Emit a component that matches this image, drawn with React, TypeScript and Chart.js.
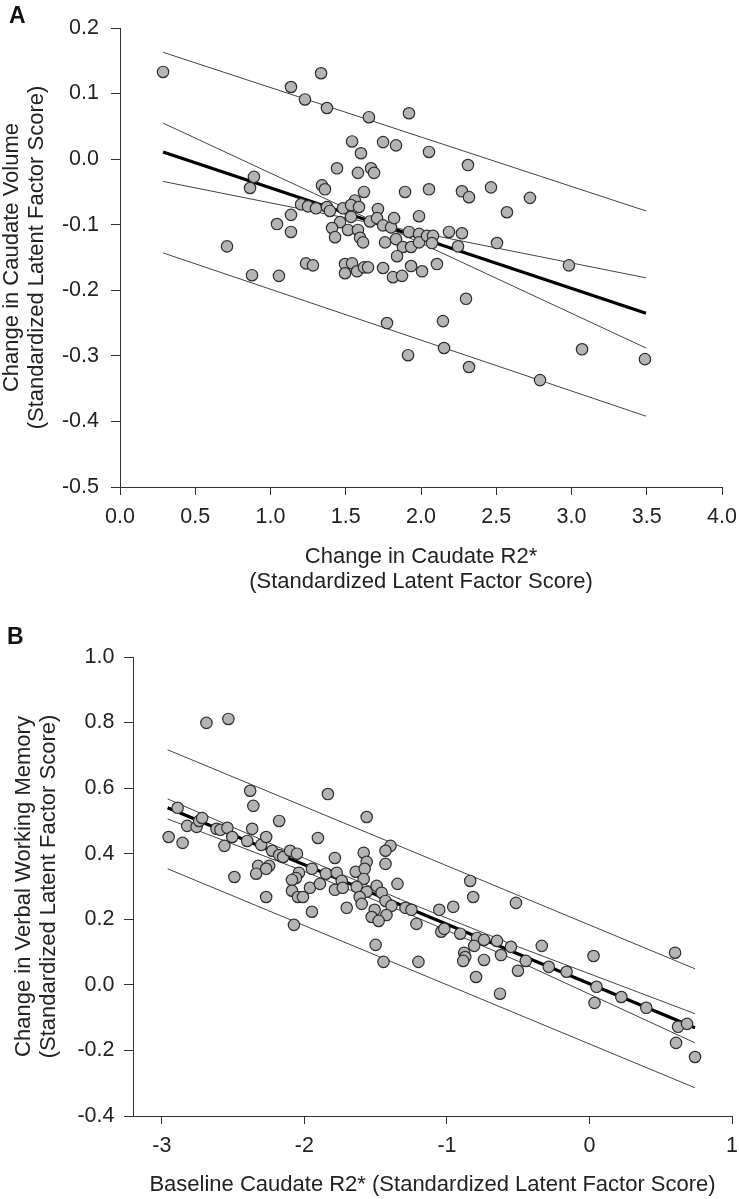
import React, { useEffect, useRef } from "react";
import { Chart, registerables } from "chart.js";

Chart.register(...registerables);

const FONT = '"Liberation Sans", Arial, Helvetica, sans-serif';

// ---------- Panel A ----------
const aXTicks = [0, 0.5, 1, 1.5, 2, 2.5, 3, 3.5, 4];
const aYTicks = [-0.5, -0.4, -0.3, -0.2, -0.1, 0, 0.1, 0.2];
const aXTitle = ["Change in Caudate R2*", "(Standardized Latent Factor Score)"];
const aYTitle = ["Change in Caudate Volume", "(Standardized Latent Factor Score)"];

const aPoints: [number, number][] = [
  [0.286, 0.133], [1.336, 0.131], [1.136, 0.110], [1.229, 0.091], [1.375, 0.078],
  [1.654, 0.064], [1.920, 0.070], [1.542, 0.027], [1.748, 0.026], [1.834, 0.021],
  [2.053, 0.011], [2.312, -0.009], [1.601, 0.009], [1.442, -0.014], [1.581, -0.021],
  [1.668, -0.014], [1.688, -0.021], [0.890, -0.027], [0.864, -0.044], [1.342, -0.040],
  [1.362, -0.046], [1.621, -0.050], [1.561, -0.063], [1.894, -0.050], [2.053, -0.046],
  [2.272, -0.049], [2.319, -0.058], [2.465, -0.043], [2.724, -0.059], [2.571, -0.081],
  [1.203, -0.069], [1.249, -0.072], [1.302, -0.075], [1.375, -0.073], [1.395, -0.079],
  [1.482, -0.075], [1.535, -0.070], [1.588, -0.073], [1.535, -0.088], [1.462, -0.096],
  [1.409, -0.105], [1.429, -0.119], [1.515, -0.108], [1.581, -0.108], [1.595, -0.120],
  [1.615, -0.127], [1.661, -0.095], [1.714, -0.076], [1.708, -0.090], [1.748, -0.101],
  [1.801, -0.104], [1.821, -0.090], [1.761, -0.127], [1.834, -0.122], [1.880, -0.134],
  [1.934, -0.134], [1.920, -0.111], [1.987, -0.114], [1.987, -0.127], [1.987, -0.087],
  [2.040, -0.117], [2.080, -0.117], [2.073, -0.128], [2.186, -0.111], [2.272, -0.113],
  [2.246, -0.133], [2.505, -0.128], [1.841, -0.148], [1.136, -0.085], [1.043, -0.099],
  [1.136, -0.111], [1.236, -0.159], [1.282, -0.162], [1.056, -0.178], [0.877, -0.177],
  [1.495, -0.160], [1.495, -0.174], [1.542, -0.159], [1.575, -0.171], [1.621, -0.165],
  [1.648, -0.165], [1.748, -0.166], [1.814, -0.180], [1.874, -0.178], [1.934, -0.163],
  [2.007, -0.171], [2.106, -0.160], [2.299, -0.213], [2.146, -0.247], [1.774, -0.250],
  [2.153, -0.288], [1.914, -0.299], [2.319, -0.317], [2.983, -0.162], [2.791, -0.337],
  [3.070, -0.290], [3.488, -0.305], [0.711, -0.133],
];

const aLineX = [0.286, 3.495];
const aFitY = [0.011, -0.235];
const aConfSteepY = [0.055, -0.288];
const aConfShallowY = [-0.034, -0.181];
const aPredUpperY = [0.163, -0.079];
const aPredLowerY = [-0.143, -0.392];

// ---------- Panel B ----------
const bXTicks = [-3, -2, -1, 0, 1];
const bYTicks = [-0.4, -0.2, 0, 0.2, 0.4, 0.6, 0.8, 1.0];
const bXTitle = "Baseline Caudate R2* (Standardized Latent Factor Score)";
const bYTitle = ["Change in Verbal Working Memory", "(Standardized Latent Factor Score)"];

const bPoints: [number, number][] = [
  [-2.687, 0.799], [-2.533, 0.811], [-2.380, 0.592], [-2.358, 0.546], [-1.835, 0.582],
  [-1.563, 0.512], [-2.889, 0.540], [-2.822, 0.485], [-2.756, 0.482], [-2.738, 0.500],
  [-2.717, 0.509], [-2.952, 0.451], [-2.854, 0.433], [-2.617, 0.476], [-2.589, 0.473],
  [-2.540, 0.479], [-2.561, 0.424], [-2.506, 0.451], [-2.366, 0.476], [-2.401, 0.439],
  [-2.303, 0.427], [-2.268, 0.451], [-2.177, 0.500], [-2.226, 0.409], [-2.177, 0.396],
  [-2.149, 0.390], [-2.100, 0.409], [-2.052, 0.400], [-1.905, 0.448], [-1.786, 0.387],
  [-2.324, 0.363], [-2.247, 0.363], [-2.338, 0.339], [-2.268, 0.354], [-2.491, 0.329],
  [-2.268, 0.268], [-2.038, 0.342], [-2.059, 0.326], [-2.087, 0.320], [-2.087, 0.287],
  [-2.045, 0.268], [-2.010, 0.268], [-1.961, 0.296], [-1.947, 0.354], [-1.891, 0.308],
  [-1.849, 0.339], [-1.773, 0.342], [-1.786, 0.290], [-1.738, 0.317], [-1.731, 0.296],
  [-1.703, 0.235], [-1.947, 0.223], [-2.073, 0.183], [-1.640, 0.345], [-1.584, 0.403],
  [-1.563, 0.375], [-1.577, 0.354], [-1.584, 0.323], [-1.633, 0.299], [-1.563, 0.284],
  [-1.493, 0.302], [-1.458, 0.281], [-1.612, 0.268], [-1.598, 0.247], [-1.431, 0.256],
  [-1.389, 0.241], [-1.424, 0.213], [-1.507, 0.229], [-1.528, 0.207], [-1.479, 0.195],
  [-1.396, 0.424], [-1.431, 0.409], [-1.431, 0.369], [-1.347, 0.308], [-1.500, 0.122],
  [-1.445, 0.070], [-0.837, 0.317], [-0.816, 0.268], [-0.516, 0.250], [-1.291, 0.235],
  [-1.249, 0.229], [-1.214, 0.186], [-1.054, 0.229], [-0.956, 0.238], [-1.200, 0.070],
  [-1.040, 0.162], [-1.019, 0.171], [-0.907, 0.156], [-0.789, 0.143], [-0.740, 0.137],
  [-0.809, 0.119], [-0.649, 0.134], [-0.551, 0.116], [-0.621, 0.091], [-0.879, 0.098],
  [-0.872, 0.085], [-0.886, 0.073], [-0.740, 0.076], [-0.796, 0.024], [-0.447, 0.073],
  [-0.502, 0.043], [-0.628, -0.027], [-0.335, 0.119], [-0.286, 0.055], [-0.161, 0.040],
  [0.028, 0.088], [0.049, -0.006], [0.035, -0.055], [0.223, -0.037], [0.398, -0.070],
  [0.600, 0.098], [0.621, -0.128], [0.684, -0.119], [0.607, -0.177], [0.740, -0.220],
];

const bLineX = [-2.959, 0.74];
const bFitY = [0.540, -0.131];
const bPredUpperY = [0.717, 0.049];
const bPredLowerY = [0.354, -0.314];
const bBandX = [-2.959, -2.0, -1.3, -0.5, 0.74];
const bBandUpperY = [0.567, 0.386, 0.256, 0.116, -0.088];
const bBandLowerY = [0.506, 0.346, 0.222, 0.072, -0.177];

// ---------- helpers ----------
const zip = (xs: number[], ys: number[]) => xs.map((x, i) => ({ x, y: ys[i] }));

function lineSet(xs: number[], ys: number[], thick = false) {
  return {
    type: "scatter" as const,
    data: zip(xs, ys),
    showLine: true,
    borderColor: thick ? "#000" : "#444",
    borderWidth: thick ? 3.2 : 1,
    pointRadius: 0,
    pointHoverRadius: 0,
    fill: false,
    tension: 0,
    order: thick ? 2 : 3,
  };
}

function pointSet(pts: [number, number][]) {
  return {
    type: "scatter" as const,
    data: pts.map(([x, y]) => ({ x, y })),
    showLine: false,
    pointRadius: 5.7,
    pointHoverRadius: 5.7,
    backgroundColor: "#b4b4b4",
    borderColor: "#2e2e2e",
    borderWidth: 1.2,
    order: 0,
  };
}

function axis(o: {
  horizontal: boolean;
  min: number;
  max: number;
  tickValues: number[];
  decimals: number;
  fit: number;
  tickLength: number;
  tickPadding: number;
  title: string | string[];
  titlePadding: any;
}) {
  return {
    type: "linear",
    position: o.horizontal ? "bottom" : "left",
    min: o.min,
    max: o.max,
    afterBuildTicks: (s: any) => {
      s.ticks = o.tickValues.map((v) => ({ value: v }));
    },
    afterFit: (s: any) => {
      if (o.horizontal) {
        s.height = o.fit;
        s.paddingLeft = 0;
        s.paddingRight = 0;
      } else {
        s.width = o.fit;
        s.paddingTop = 0;
        s.paddingBottom = 0;
      }
    },
    grid: {
      display: true,
      drawOnChartArea: false,
      drawTicks: true,
      tickLength: o.tickLength,
      tickColor: "#333",
      tickWidth: 1,
    },
    border: { display: true, color: "#333", width: 1 },
    ticks: {
      autoSkip: false,
      maxRotation: 0,
      minRotation: 0,
      padding: o.tickPadding,
      color: "#222",
      font: { family: FONT, size: 21.5 },
      callback: (v: any) => Number(v).toFixed(o.decimals),
    },
    title: {
      display: true,
      text: o.title,
      color: "#222",
      font: { family: FONT, size: 22, lineHeight: 1.12 },
      padding: o.titlePadding,
    },
  };
}

function baseOptions(scales: any, padding: any) {
  return {
    responsive: false,
    maintainAspectRatio: false,
    animation: false as const,
    devicePixelRatio: 1,
    layout: { padding },
    plugins: {
      legend: { display: false },
      tooltip: { enabled: false },
      title: { display: false },
    },
    events: [] as any[],
    scales,
  };
}

function PanelChart({ config, top, height }: { config: any; top: number; height: number }) {
  const ref = useRef<HTMLCanvasElement | null>(null);
  useEffect(() => {
    if (!ref.current) return;
    const chart = new Chart(ref.current, config);
    return () => chart.destroy();
  }, [config]);
  return (
    <canvas
      ref={ref}
      width={739}
      height={height}
      style={{ position: "absolute", left: 0, top, width: 739, height, display: "block" }}
    />
  );
}

const configA = {
  type: "scatter",
  data: {
    datasets: [
      pointSet(aPoints),
      lineSet(aLineX, aFitY, true),
      lineSet(aLineX, aConfSteepY),
      lineSet(aLineX, aConfShallowY),
      lineSet(aLineX, aPredUpperY),
      lineSet(aLineX, aPredLowerY),
    ],
  },
  options: baseOptions(
    {
      x: axis({
        horizontal: true, min: 0, max: 4, tickValues: aXTicks, decimals: 1, fit: 113,
        tickLength: 8, tickPadding: 9, title: aXTitle, titlePadding: { top: 0, bottom: 6 },
      }),
      y: axis({
        horizontal: false, min: -0.5, max: 0.2, tickValues: aYTicks, decimals: 1, fit: 120,
        tickLength: 9, tickPadding: 12, title: aYTitle, titlePadding: { top: 0, bottom: 0 },
      }),
    },
    { left: 0, right: 17, top: 28, bottom: 0 }
  ),
};

const configB = {
  type: "scatter",
  data: {
    datasets: [
      pointSet(bPoints),
      lineSet(bLineX, bFitY, true),
      lineSet(bBandX, bBandUpperY),
      lineSet(bBandX, bBandLowerY),
      lineSet(bLineX, bPredUpperY),
      lineSet(bLineX, bPredLowerY),
    ],
  },
  options: baseOptions(
    {
      x: axis({
        horizontal: true, min: -3.202, max: 1, tickValues: bXTicks, decimals: 0, fit: 83,
        tickLength: 8, tickPadding: 9, title: bXTitle, titlePadding: { top: 0, bottom: 2 },
      }),
      y: axis({
        horizontal: false, min: -0.4, max: 1.0, tickValues: bYTicks, decimals: 1, fit: 133,
        tickLength: 9, tickPadding: 9.5, title: bYTitle, titlePadding: { top: 12, bottom: 0 },
      }),
    },
    { left: 0, right: 4, top: 57, bottom: 0 }
  ),
};

const letterStyle: React.CSSProperties = {
  position: "absolute",
  fontFamily: FONT,
  fontWeight: "bold",
  fontSize: 23,
  lineHeight: "23px",
  color: "#111",
};

export default function App() {
  return (
    <div
      style={{
        position: "absolute",
        left: 0,
        top: 0,
        width: 739,
        height: 1199,
        background: "#fff",
        overflow: "hidden",
      }}
    >
      <PanelChart config={configA} top={0} height={600} />
      <PanelChart config={configB} top={600} height={599} />
      <div style={{ ...letterStyle, left: 9, top: 4 }}>A</div>
      <div style={{ ...letterStyle, left: 7, top: 625 }}>B</div>
    </div>
  );
}
